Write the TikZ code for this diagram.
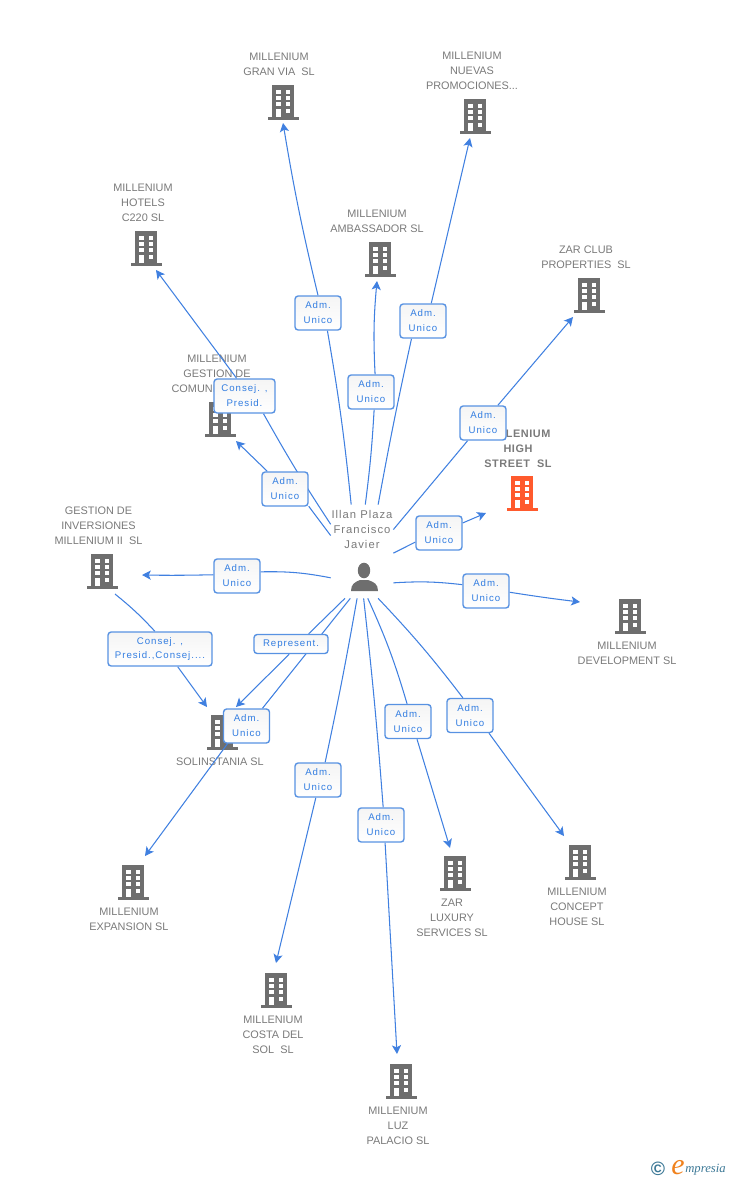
\documentclass[tikz,border=0pt]{standalone}
\usepackage{fontspec}
\setmainfont{Liberation Sans}
\newfontfamily\boxfont[LetterSpace=10]{Liberation Sans}
\newfontfamily\hubfont[LetterSpace=9]{Liberation Sans}
\newfontfamily\logofont{Liberation Serif}
\usetikzlibrary{arrows.meta}

\definecolor{linkblue}{RGB}{64,128,224}
\definecolor{boxblue}{RGB}{88,146,226}
\definecolor{boxtext}{RGB}{50,125,225}
\definecolor{bgrey}{RGB}{110,110,110}
\definecolor{bname}{RGB}{122,122,122}
\definecolor{borange}{RGB}{255,90,45}
\definecolor{logoteal}{RGB}{60,120,150}
\definecolor{logoorange}{RGB}{240,130,30}

\pgfdeclarelayer{bg}
\pgfsetlayers{bg,main}

\tikzset{
  link/.style={draw=linkblue,line width=.6pt},
  tolink/.style={link,-{Stealth[length=5pt,width=5.2pt,inset=1.2pt]}},
  adm/.style={draw=boxblue,line width=.8pt,rounded corners=1.8pt,top color=black!4,bottom color=white,
    text=boxtext,align=center,inner sep=0pt,minimum height=.68cm,
    font=\boxfont\fontsize{5.5}{8.5}\selectfont},
  bldgname/.style={text=bname,align=center,inner sep=0pt,yshift=-.4pt,font=\fontsize{6.2}{8.5}\selectfont},
  bldgicon/.pic={
    \fill[pic actions] (-15.5,14.5) rectangle (15.5,17.5);
    \fill[pic actions] (-11,-17.5) rectangle (11,14.5);
    \fill[white] (-6.7,-13) rectangle (-2.3,-9);
    \fill[white] (2.7,-13) rectangle (7,-9);
    \fill[white] (-6.7,-7) rectangle (-2.3,-3);
    \fill[white] (2.7,-7) rectangle (7,-3);
    \fill[white] (-6.7,-.5) rectangle (-2.3,3.5);
    \fill[white] (2.7,-.5) rectangle (7,3.5);
    \fill[white] (-6.7,6.5) rectangle (-2.3,14.5);
    \fill[white] (2.7,6.5) rectangle (7,10.5);
  }
}

\begin{document}
\begin{tikzpicture}[x=.02cm,y=-.02cm]
  \useasboundingbox (0,0) rectangle (728,1180);
  % hub
  \node[minimum width=1.24cm,minimum height=1.86cm,inner sep=0pt] (hub) at (362,551.5) {};
  % link boxes
  \node[adm,minimum width=.92cm] (lblGran) at (318,313) {Adm.\\Unico};
  \node[adm,minimum width=.92cm] (lblAmb) at (371,392) {Adm.\\Unico};
  \node[adm,minimum width=.92cm] (lblNuevas) at (423,321) {Adm.\\Unico};
  \node[adm,minimum width=1.22cm] (lblHotels) at (244.5,396) {Consej. ,\\Presid.};
  \node[adm,minimum width=.92cm] (lblComun) at (285,489) {Adm.\\Unico};
  \node[adm,minimum width=.92cm] (lblZar) at (483,423) {Adm.\\Unico};
  \node[adm,minimum width=.92cm] (lblHigh) at (439,533) {Adm.\\Unico};
  \node[adm,minimum width=.92cm] (lblInv) at (237,576) {Adm.\\Unico};
  \node[adm,minimum width=.92cm] (lblDev) at (486,591) {Adm.\\Unico};
  \node[adm,minimum width=2.08cm] (lblPresid) at (160,649) {Consej. ,\\Presid.,Consej....};
  \node[adm,minimum width=1.48cm,minimum height=.38cm] (lblRepr) at (291,644) {Represent.};
  \node[adm,minimum width=.92cm] (lblExp) at (246.5,726) {Adm.\\Unico};
  \node[adm,minimum width=.92cm] (lblCosta) at (318,780) {Adm.\\Unico};
  \node[adm,minimum width=.92cm] (lblLuz) at (381,825) {Adm.\\Unico};
  \node[adm,minimum width=.92cm] (lblLuxury) at (408,721.5) {Adm.\\Unico};
  \node[adm,minimum width=.92cm] (lblConcept) at (470,715.5) {Adm.\\Unico};
  % arrow ends
  \coordinate (tGran) at (283,123);
  \coordinate (tNuevas) at (470,138);
  \coordinate (tHotels) at (156,270);
  \coordinate (tAmb) at (377,281);
  \coordinate (tZar) at (573,317);
  \coordinate (tComun) at (236,441);
  \coordinate (tHigh) at (486,513);
  \coordinate (tInv) at (142,575);
  \coordinate (tDev) at (580,602);
  \coordinate (tSolinA) at (207,707);
  \coordinate (tSolinB) at (236,707);
  \coordinate (tExp) at (145,856);
  \coordinate (tCosta) at (276,963);
  \coordinate (tLuz) at (397,1054);
  \coordinate (tLuxury) at (450,848);
  \coordinate (tConcept) at (564,836);
  \coordinate (sInv) at (115,594);
  \begin{pgfonlayer}{bg}
    % buildings
    \pic[fill=bgrey] (bGran) at (283,102.5) {bldgicon};
    \pic[fill=bgrey] (bNuevas) at (475,116.5) {bldgicon};
    \pic[fill=bgrey] (bHotels) at (146,248.5) {bldgicon};
    \pic[fill=bgrey] (bAmb) at (380,259.5) {bldgicon};
    \pic[fill=bgrey] (bZar) at (589,295.5) {bldgicon};
    \pic[fill=bgrey] (bComun) at (220,419.5) {bldgicon};
    \pic[fill=borange] (bHigh) at (522,493.5) {bldgicon};
    \pic[fill=bgrey] (bInv) at (102,571.5) {bldgicon};
    \pic[fill=bgrey] (bDev) at (630,616.5) {bldgicon};
    \pic[fill=bgrey] (bSolin) at (222,732.5) {bldgicon};
    \pic[fill=bgrey] (bExp) at (133,882.5) {bldgicon};
    \pic[fill=bgrey] (bCosta) at (276,990.5) {bldgicon};
    \pic[fill=bgrey] (bLuz) at (401,1081.5) {bldgicon};
    \pic[fill=bgrey] (bLuxury) at (455,873.5) {bldgicon};
    \pic[fill=bgrey] (bConcept) at (580,862.5) {bldgicon};
    % building names
    \node[bldgname] (nGran) at (279,63.5) {MILLENIUM\\GRAN VIA\ \ SL};
    \node[bldgname] (nNuevas) at (472,70) {MILLENIUM\\NUEVAS\\PROMOCIONES...};
    \node[bldgname] (nHotels) at (143,202) {MILLENIUM\\HOTELS\\C220 SL};
    \node[bldgname] (nAmb) at (377,220.5) {MILLENIUM\\AMBASSADOR SL};
    \node[bldgname] (nZar) at (586,256.5) {ZAR CLUB\\PROPERTIES\ \ SL};
    \node[bldgname] (nComun) at (217,373) {MILLENIUM\\GESTION DE\\COMUNIDADES...};
    \node[bldgname,font=\bfseries\addfontfeatures{LetterSpace=5}\fontsize{6.2}{8.5}\selectfont] (nHigh) at (518,448) {MILLENIUM\\HIGH\\STREET\ \ SL};
    \node[bldgname] (nInv) at (98.5,525) {GESTION DE\\INVERSIONES\\MILLENIUM II\ \ SL};
    \node[bldgname] (nDev) at (627,652.5) {MILLENIUM\\DEVELOPMENT SL};
    \node[bldgname] (nSolin) at (220,761) {SOLINSTANIA SL};
    \node[bldgname] (nExp) at (129,918.5) {MILLENIUM\\EXPANSION SL};
    \node[bldgname] (nCosta) at (273,1034) {MILLENIUM\\COSTA DEL\\SOL\ \ SL};
    \node[bldgname] (nLuz) at (398,1125) {MILLENIUM\\LUZ\\PALACIO SL};
    \node[bldgname] (nLuxury) at (452,917) {ZAR\\LUXURY\\SERVICES SL};
    \node[bldgname] (nConcept) at (577,906) {MILLENIUM\\CONCEPT\\HOUSE SL};
    % person
    \node[bldgname,font=\hubfont\fontsize{6.4}{8.5}\selectfont] (nHub) at (362,529) {Illan Plaza\\Francisco\\Javier};
    \fill[bgrey] (364,570.5) ellipse (6.2 and 7.8);
    \fill[bgrey] (351,591) .. controls (351,584) and (355,582) .. (360,580) -- (368,580)
      .. controls (374,582) and (378,584) .. (378,591) -- cycle;
    % links
    \draw[link] (hub.103) to[bend right=2] (lblGran.-62);
    \draw[tolink] (lblGran.90) to[bend left=2] (tGran);
    \draw[link] (hub.86) to[bend right=2] (lblAmb.-80);
    \draw[tolink] (lblAmb.77) to[bend left=4] (tAmb);
    \draw[link] (hub.71) to[bend left=1] (lblNuevas.-123);
    \draw[tolink] (lblNuevas.65) to (tNuevas);
    \draw[link] (hub.139) to[bend left=2] (lblHotels.-43);
    \draw[tolink] (lblHotels.114) to (tHotels);
    \draw[link] (hub.153) to (lblComun.-36);
    \draw[tolink] (lblComun.135) to (tComun);
    \draw[link] (hub.35) to (lblZar.-131);
    \draw[tolink] (lblZar.50) to (tZar);
    \draw[link] (hub.-3) to (lblHigh.201);
    \draw[tolink] (lblHigh.23) to (tHigh);
    \draw[link] (hub.220) to[bend right=6] (lblInv.10);
    \draw[tolink] (lblInv.177) to[bend left=1] (tInv);
    \draw[link] (hub.-45) to[bend left=5] (lblDev.165);
    \draw[tolink] (lblDev.-3) to[bend right=1] (tDev);
    \draw[link] (sInv) to[bend left=4] (lblPresid.106);
    \draw[tolink] (lblPresid.-45) to (tSolinA);
    \draw[link] (hub.-110) to (lblRepr.30);
    \draw[tolink] (lblRepr.-100) to (tSolinB);
    \draw[link] (hub.-104) to (lblExp.48);
    \draw[tolink] (lblExp.-137) to (tExp);
    \draw[link] (hub.-96) to[bend left=1] (lblCosta.68);
    \draw[tolink] (lblCosta.-97) to (tCosta);
    \draw[link] (hub.-88) to[bend left=1] (lblLuz.83);
    \draw[tolink] (lblLuz.-77) to (tLuz);
    \draw[link] (hub.-83) to[bend left=4] (lblLuxury.93);
    \draw[tolink] (lblLuxury.-63) to (tLuxury);
    \draw[link] (hub.-71) to[bend left=3] (lblConcept.112);
    \draw[tolink] (lblConcept.-43) to (tConcept);
    % logo
    \node[text=logoteal,inner sep=0pt,font=\bfseries\fontsize{11}{12}\selectfont] (logoC) at (658,1168.5) {©};
    \node[text=logoorange,inner sep=0pt,font=\logofont\itshape\fontsize{17}{17}\selectfont] (logoE) at (678,1168) {e};
    \node[text=logoteal,inner sep=0pt,anchor=west,font=\logofont\itshape\fontsize{7.2}{8}\selectfont] (logoT) at (685,1170) {mpresia};
  \end{pgfonlayer}
\end{tikzpicture}
\end{document}
